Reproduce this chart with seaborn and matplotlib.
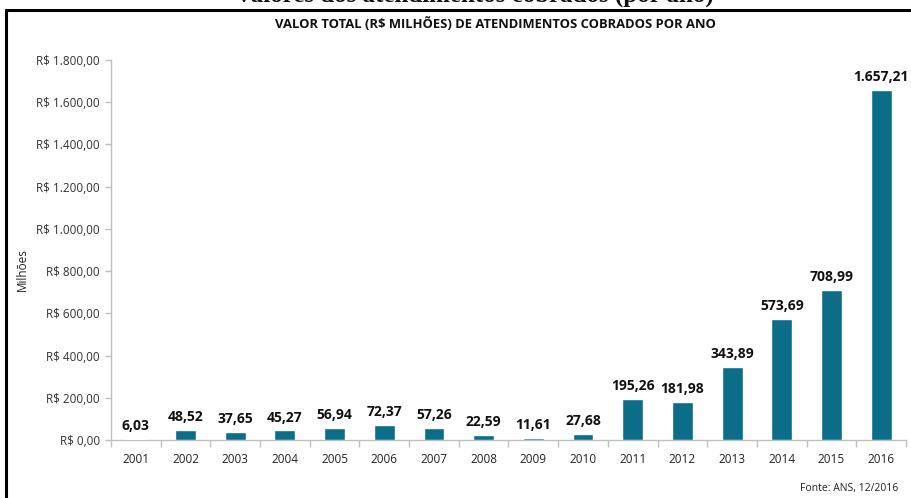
import matplotlib
matplotlib.use("Agg")
import matplotlib.pyplot as plt
import seaborn as sns
import pandas as pd
from matplotlib.ticker import FixedLocator, FuncFormatter

years = ["2001", "2002", "2003", "2004", "2005", "2006", "2007", "2008",
         "2009", "2010", "2011", "2012", "2013", "2014", "2015", "2016"]
values = [6.03, 48.52, 37.65, 45.27, 56.94, 72.37, 57.26, 22.59,
          11.61, 27.68, 195.26, 181.98, 343.89, 573.69, 708.99, 1657.21]
y_ticks = [0, 200, 400, 600, 800, 1000, 1200, 1400, 1600, 1800]

title = "VALOR TOTAL (R$ MILHÕES) DE ATENDIMENTOS COBRADOS POR ANO"
top_title = "Valores dos atendimentos cobrados (por ano)"
ylabel = "Milhões"
source = "Fonte: ANS, 12/2016"

def br(v, dec=2):
    s = f"{v:,.{dec}f}"
    return s.replace(",", "X").replace(".", ",").replace("X", ".")

sns.set_theme(style="white")
plt.rcParams['font.family'] = ['Open Sans', 'DejaVu Sans']

W, H = 912, 498
fig = plt.figure(figsize=(W / 100, H / 100), dpi=100)
fig.patch.set_facecolor("white")

def fx(px):
    return px / W

def fy(py):
    return 1 - py / H

ax = fig.add_axes([fx(111), fy(440), fx(906) - fx(111), fy(60) - fy(440)])
df = pd.DataFrame({"ano": years, "valor": values})
bar_color = "#0c6d89"
sns.barplot(data=df, x="ano", y="valor", color=bar_color, width=0.42,
            saturation=1, ax=ax, zorder=3)

ax.set_xlim(-0.5, len(years) - 0.5)
ax.set_ylim(0, 1800)
ax.yaxis.set_major_locator(FixedLocator(y_ticks))
ax.yaxis.set_major_formatter(FuncFormatter(lambda v, p: "R$ " + br(v)))
ax.set_xlabel("")
ax.set_ylabel("")

grey = "#bfbfbf"
for s in ["top", "right"]:
    ax.spines[s].set_visible(False)
for s in ["left", "bottom"]:
    ax.spines[s].set_color(grey)
    ax.spines[s].set_linewidth(1.0)

ax.tick_params(axis="y", which="major", left=True, length=4, width=1,
               color=grey, labelsize=8.5, labelcolor="#333333", pad=4)
ax.tick_params(axis="x", which="major", bottom=False, length=0,
               labelsize=8.5, labelcolor="#222222", pad=9)
ax.set_xticks([i - 0.5 for i in range(len(years) + 1)], minor=True)
ax.tick_params(axis="x", which="minor", bottom=True, length=5, width=1,
               color=grey)

for i, v in enumerate(values):
    ax.text(i, v + 28, br(v), ha="center", va="bottom", fontsize=10,
            fontweight="bold", color="#111111")

fig.text(fx(22), fy(270), ylabel, rotation=90, ha="center", va="center",
         fontsize=8.5, color="#222222")
fig.text(fx(495), fy(24), title, ha="center", va="center", fontsize=9.4,
         fontweight="bold", color="#111111")
fig.text(fx(898), fy(488), source, ha="right", va="center", fontsize=7.5,
         color="#222222")
fig.text(fx(474), fy(1.5), top_title, ha="center", va="baseline",
         fontsize=18, fontweight="bold", family=['Liberation Serif', 'DejaVu Serif'],
         color="#111111")

# frame
fig.add_artist(plt.Line2D([fx(6), fx(6)], [fy(10), 0], color="black", lw=2.2,
                          transform=fig.transFigure))
fig.add_artist(plt.Line2D([fx(6), 1], [fy(10), fy(10)], color="black", lw=2.2,
                          transform=fig.transFigure))

fig.savefig("out.png", dpi=100, facecolor="white")
